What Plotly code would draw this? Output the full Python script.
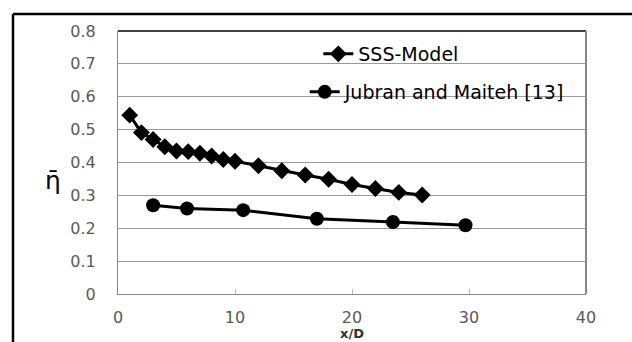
import plotly.graph_objects as go

sss_x = [1, 2, 3, 4, 5, 6, 7, 8, 9, 10, 12, 14, 16, 18, 20, 22, 24, 26]
sss_y = [0.544, 0.491, 0.47, 0.448, 0.435, 0.433, 0.428, 0.42, 0.409, 0.404,
         0.39, 0.375, 0.362, 0.349, 0.333, 0.321, 0.309, 0.301]
jm_x = [3.0, 5.9, 10.7, 17.0, 23.5, 29.7]
jm_y = [0.27, 0.26, 0.255, 0.229, 0.219, 0.209]

x_ticks = [0, 10, 20, 30, 40]
y_ticks = [0, 0.1, 0.2, 0.3, 0.4, 0.5, 0.6, 0.7, 0.8]

W, H = 632, 342
L, R, T, B = 118, 46, 31, 48
PW, PH = W - L - R, H - T - B


def px(xp):
    return (xp - L) / PW


def py(yp):
    return (H - B - yp) / PH


fig = go.Figure()
fig.add_trace(go.Scatter(x=sss_x, y=sss_y, mode="lines+markers", name="SSS-Model",
                         line=dict(color="black", width=3),
                         marker=dict(symbol="diamond", size=13, color="black"),
                         legend="legend"))
fig.add_trace(go.Scatter(x=jm_x, y=jm_y, mode="lines+markers", name="Jubran and Maiteh [13]",
                         line=dict(color="black", width=3),
                         marker=dict(symbol="circle", size=14, color="black"),
                         legend="legend2"))

tickfont = dict(family="DejaVu Sans", size=16, color="#595959")
legfont = dict(family="DejaVu Sans", size=19, color="black")

fig.update_layout(
    width=W, height=H,
    margin=dict(l=L, r=R, t=T, b=B, autoexpand=False),
    paper_bgcolor="white", plot_bgcolor="white",
    xaxis=dict(range=[0, 40], tickvals=x_ticks, ticktext=[str(v) for v in x_ticks],
               showgrid=False, zeroline=False, showline=True, linecolor="#888888",
               linewidth=1, mirror=False, ticks="inside", ticklen=5, tickcolor="#bbbbbb",
               tickfont=tickfont, ticklabelstandoff=9, automargin=False, fixedrange=True),
    yaxis=dict(range=[0, 0.8], tickvals=y_ticks, ticktext=["0", "0.1", "0.2", "0.3", "0.4", "0.5", "0.6", "0.7", "0.8"],
               showgrid=True, gridcolor="#9a9a9a", gridwidth=1, zeroline=False,
               showline=True, linecolor="#888888", linewidth=1, ticks="",
               tickfont=tickfont, ticklabelstandoff=18, automargin=False, fixedrange=True),
    showlegend=True,
    legend=dict(x=0.428, y=py(54), xref="paper", yref="paper",
                xanchor="left", yanchor="middle", font=legfont, bgcolor="rgba(0,0,0,0)",
                borderwidth=0, itemwidth=30),
    legend2=dict(x=0.399, y=py(92), xref="paper", yref="paper",
                 xanchor="left", yanchor="middle", font=legfont, bgcolor="rgba(0,0,0,0)",
                 borderwidth=0, itemwidth=30),
)

# plot-area frame: black top, gray right
fig.add_shape(type="line", xref="paper", yref="paper", x0=0, x1=1, y0=1, y1=1,
              line=dict(color="black", width=1.5))
fig.add_shape(type="line", xref="paper", yref="paper", x0=1, x1=1, y0=0, y1=1,
              line=dict(color="#888888", width=2))

# outer chart border (top and left)
fig.add_shape(type="line", xref="paper", yref="paper",
              x0=px(13), x1=px(W), y0=py(14), y1=py(14),
              line=dict(color="black", width=2.5))
fig.add_shape(type="line", xref="paper", yref="paper",
              x0=px(13), x1=px(13), y0=py(14), y1=py(H),
              line=dict(color="black", width=2.5))

# axis titles
fig.add_annotation(text="η̄", xref="paper", yref="paper",
                   x=px(53), y=py(180),
                   showarrow=False, font=dict(family="DejaVu Sans", size=25, color="black"),
                   xanchor="center", yanchor="middle")
fig.add_annotation(text="<b>x/D</b>", xref="paper", yref="paper",
                   x=px(352), y=py(342), borderpad=0,
                   showarrow=False, font=dict(family="DejaVu Sans", size=13, color="#333333"),
                   xanchor="center", yanchor="bottom")

fig.write_html("out.html")
